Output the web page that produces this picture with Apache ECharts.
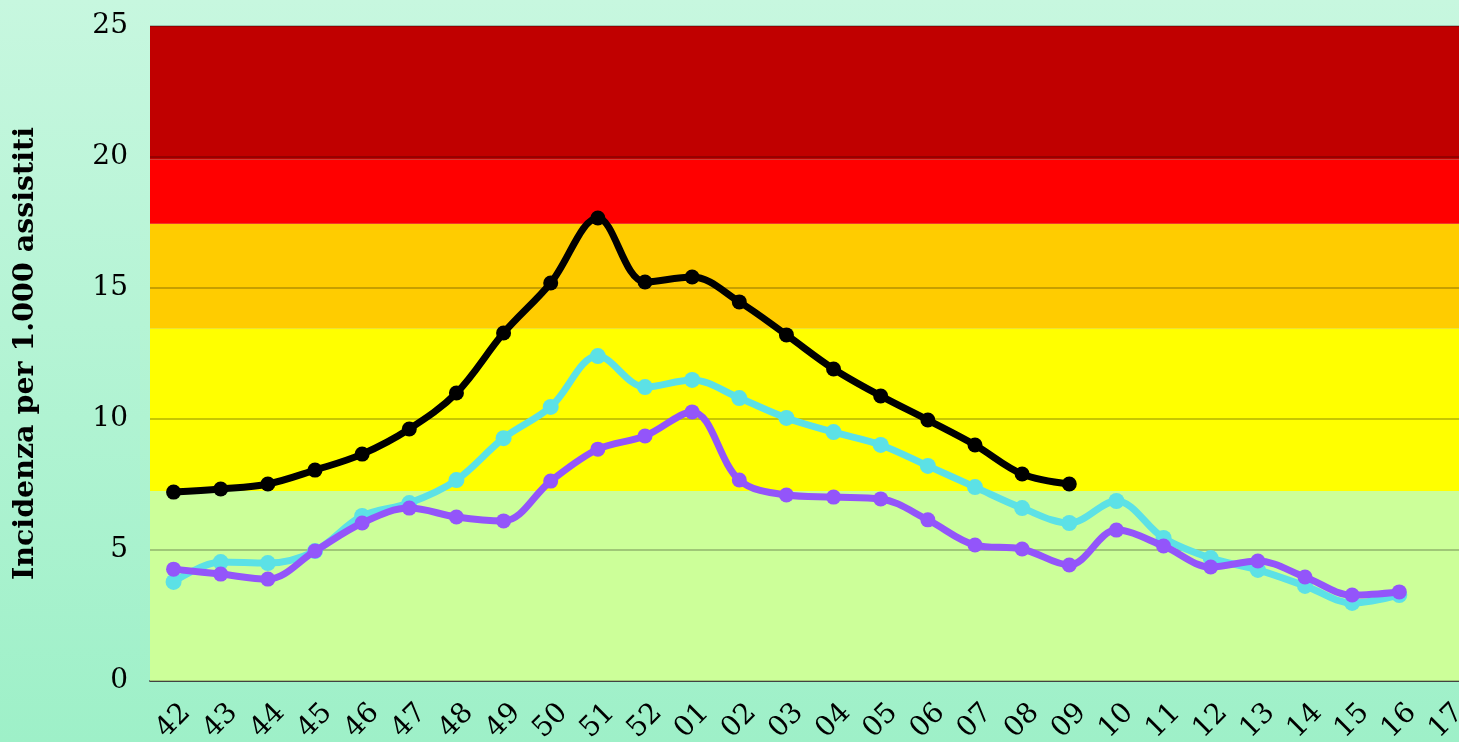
<!DOCTYPE html>
<html><head><meta charset="utf-8">
<script src="https://cdn.jsdelivr.net/npm/echarts@6/dist/echarts.min.js"></script>
<style>
html,body{margin:0;padding:0;}
body{background:linear-gradient(180deg,#c7f7df 0%,#9ef0c8 100%);}
#c{width:1459px;height:742px;}
</style></head><body><div id="c"></div>
<script>
const weeks = ['42','43','44','45','46','47','48','49','50','51','52','01','02','03','04','05','06','07','08','09','10','11','12','13','14','15','16','17'];
const seriesBlack = [7.21,7.33,7.52,8.05,8.66,9.62,10.99,13.28,15.19,17.67,15.23,15.42,14.47,13.21,11.91,10.88,9.96,9.01,7.90,7.52];
const seriesCyan = [3.78,4.54,4.50,4.96,6.30,6.79,7.67,9.27,10.46,12.40,11.22,11.49,10.80,10.04,9.50,9.01,8.21,7.40,6.60,6.03,6.87,5.46,4.69,4.24,3.63,2.98,3.28];
const seriesPurple = [4.27,4.08,3.89,4.96,6.03,6.60,6.26,6.11,7.63,8.85,9.35,10.27,7.67,7.10,7.02,6.95,6.15,5.19,5.04,4.43,5.76,5.15,4.35,4.58,3.97,3.28,3.40];
const bandEdges = [0, 7.25, 13.45, 17.45, 19.9, 25];
const bandColors = ['#ccff99','#ffff00','#ffcc00','#ff0000','#c00000'];
const yTicks = [0,5,10,15,20,25];

const chart = echarts.init(document.getElementById('c'));
const bands = [];
for (let i = 0; i < bandColors.length; i++) {
  bands.push([{yAxis: bandEdges[i], itemStyle:{color: bandColors[i], opacity:1}}, {yAxis: bandEdges[i+1]}]);
}
const font = 'DejaVu Serif';
chart.setOption({
  backgroundColor: 'transparent',
  animation: false,
  grid: {left: 150, top: 26, width: 1320, height: 655, containLabel: false, outerBoundsMode: 'none'},
  xAxis: {
    type: 'category', data: weeks, boundaryGap: true,
    axisLine: {show: true, lineStyle: {color: '#555', width: 2}},
    axisTick: {show: false},
    axisLabel: {rotate: 45, align: 'center', verticalAlign: 'middle', margin: 40, interval: 0,
      fontFamily: font, fontSize: 28, color: '#000'},
    splitLine: {show: false}
  },
  yAxis: {
    type: 'value', min: 0, max: 25, interval: 5, z: 3,
    name: 'Incidenza per 1.000 assistiti', nameLocation: 'middle', nameGap: 110, nameRotate: 90,
    nameTextStyle: {fontFamily: font, fontWeight: 'bold', fontSize: 28.5, color: '#000'},
    axisLine: {show: false}, axisTick: {show: false},
    axisLabel: {fontFamily: font, fontSize: 28, color: '#000', margin: 22},
    splitLine: {show: true, lineStyle: {color: 'rgba(0,0,0,0.22)', width: 2}}
  },
  series: [
    {type: 'line', data: [], z: 1, silent: true,
      markArea: {silent: true, data: bands}},
    {name: 'cyan', type: 'line', data: seriesCyan, smooth: 0.35, z: 5,
      symbol: 'circle', symbolSize: 16, lineStyle: {color: '#5ce1e6', width: 7},
      itemStyle: {color: '#5ce1e6'}},
    {name: 'purple', type: 'line', data: seriesPurple, smooth: 0.35, z: 6,
      symbol: 'circle', symbolSize: 15, lineStyle: {color: '#9355fa', width: 7},
      itemStyle: {color: '#9355fa'}},
    {name: 'black', type: 'line', data: seriesBlack, smooth: 0.35, z: 7,
      symbol: 'circle', symbolSize: 15, lineStyle: {color: '#000', width: 7},
      itemStyle: {color: '#000'}}
  ]
});
</script></body></html>
